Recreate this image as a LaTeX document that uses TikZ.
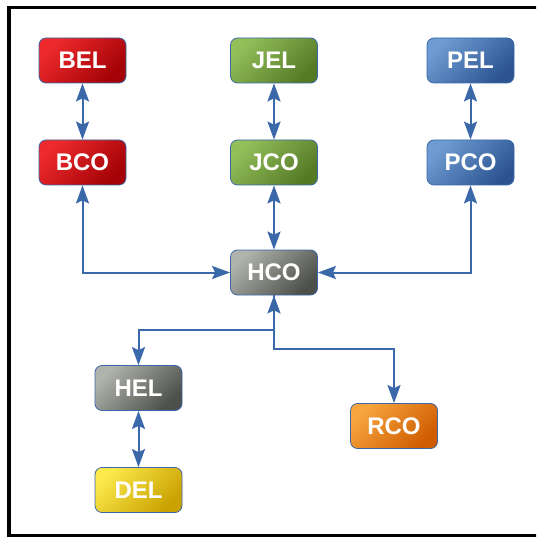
\documentclass[tikz,border=0pt]{standalone}
\usepackage{fontspec}
\setmainfont{Liberation Sans}
\usetikzlibrary{arrows.meta}

\definecolor{linkblue}{HTML}{3A68A8}
\definecolor{redA}{HTML}{EE2A2C}
\definecolor{redB}{HTML}{A30206}
\definecolor{greenA}{HTML}{93BF5A}
\definecolor{greenB}{HTML}{557A26}
\definecolor{blueA}{HTML}{6E9BD2}
\definecolor{blueB}{HTML}{2B5490}
\definecolor{grayA}{HTML}{B0B2AC}
\definecolor{grayB}{HTML}{4D4F4A}
\definecolor{yellowA}{HTML}{FBE84A}
\definecolor{yellowB}{HTML}{C9A100}
\definecolor{orangeA}{HTML}{F7A53E}
\definecolor{orangeB}{HTML}{CF5C00}

\begin{document}
\begin{tikzpicture}[x=1pt, y=-1pt,
  box/.style={draw=linkblue, line width=0.8pt, rounded corners=7pt,
    minimum width=87pt, minimum height=45pt, inner sep=0pt,
    text=white, font=\fontsize{24}{24}\selectfont\bfseries},
  grad/.style n args={2}{top color=#1, bottom color=#2, shading angle=45},
  conn/.style={draw=linkblue, line width=2pt, {Stealth[length=18pt, width=13pt, inset=3pt]}-{Stealth[length=18pt, width=13pt, inset=3pt]}},
  oneway/.style={draw=linkblue, line width=2pt, -{Stealth[length=18pt, width=13pt, inset=3pt]}}]
\useasboundingbox (0,0) rectangle (536,537);
\clip (0,0) rectangle (536,537);
\draw[line width=3.5pt] (560,7.5) -- (9,7.5) -- (9,535.5) -- (560,535.5);

% top rows
\node[box, grad={redA}{redB}] (bel) at (82.5,60.5) {BEL};
\node[box, grad={greenA}{greenB}] (jel) at (274,60.5) {JEL};
\node[box, grad={blueA}{blueB}] (pel) at (470.5,60.5) {PEL};
\node[box, grad={redA}{redB}] (bco) at (82.5,162.5) {BCO};
\node[box, grad={greenA}{greenB}] (jco) at (274,162.5) {JCO};
\node[box, grad={blueA}{blueB}] (pco) at (470.5,162.5) {PCO};

% hub and below
\node[box, grad={grayA}{grayB}] (hco) at (274,272.5) {HCO};
\node[box, grad={grayA}{grayB}] (hel) at (138.5,388) {HEL};
\node[box, grad={yellowA}{yellowB}] (del) at (138.5,490) {DEL};
\node[box, grad={orangeA}{orangeB}] (rco) at (394,426) {RCO};

\draw[conn] (bel) -- (bco);
\draw[conn] (jel) -- (jco);
\draw[conn] (pel) -- (pco);
\draw[conn] (hel) -- (del);
\draw[conn] (jco) -- (hco);
\draw[conn] (bco) |- (hco);
\draw[conn] (pco) |- (hco);
\draw[conn] (hco.south) -- ++(0,35) -| (hel);
\draw[oneway] (hco.south) -- ++(0,54) -| (rco);
\end{tikzpicture}
\end{document}
